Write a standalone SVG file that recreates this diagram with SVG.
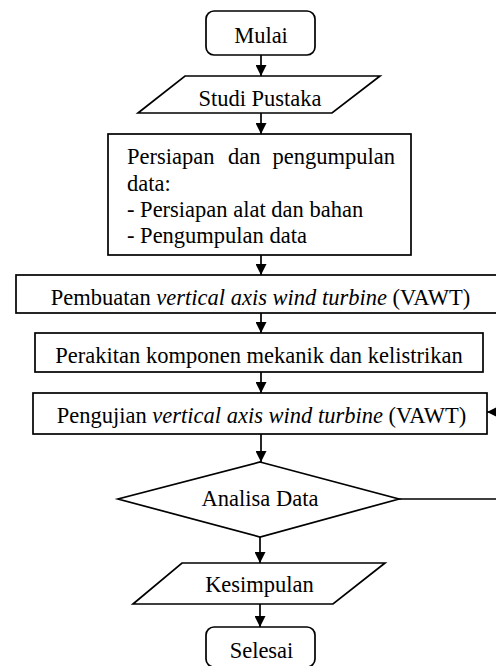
<svg xmlns="http://www.w3.org/2000/svg" width="496" height="666" viewBox="0 0 496 666">
  <style>
    .shape { fill: #ffffff; stroke: #000000; stroke-width: 1.7; }
    .label { font-family: 'Liberation Serif', 'DejaVu Serif', serif; font-size: 22.5px; fill: #000000; }
    .mid { text-anchor: middle; }
    .it { font-style: italic; }
    .edge { fill: none; stroke: #000000; stroke-width: 1.7; }
  </style>
  <defs>
    <marker id="arrow" viewBox="0 0 11 11" refX="11" refY="5.5" markerWidth="11" markerHeight="11" markerUnits="userSpaceOnUse" orient="auto">
      <path d="M0,0 L11,5.5 L0,11 Z" fill="#000000"/>
    </marker>
  </defs>

  <rect width="496" height="666" fill="#ffffff"/>

  <g id="connectors">
    <line class="edge" x1="261" y1="55" x2="261" y2="76" marker-end="url(#arrow)"/>
    <line class="edge" x1="261" y1="113" x2="261" y2="134" marker-end="url(#arrow)"/>
    <line class="edge" x1="261" y1="255" x2="261" y2="275" marker-end="url(#arrow)"/>
    <line class="edge" x1="261" y1="313" x2="261" y2="333" marker-end="url(#arrow)"/>
    <line class="edge" x1="261" y1="372" x2="261" y2="393" marker-end="url(#arrow)"/>
    <line class="edge" x1="261" y1="434" x2="261" y2="462" marker-end="url(#arrow)"/>
    <line class="edge" x1="260" y1="537" x2="260" y2="563" marker-end="url(#arrow)"/>
    <line class="edge" x1="260" y1="604" x2="260" y2="627" marker-end="url(#arrow)"/>
    <!-- feedback loop from the decision back to testing -->
    <path class="edge" d="M399,499 H500 V412 H487" marker-end="url(#arrow)"/>
  </g>

  <g id="mulai">
    <rect class="shape" x="206" y="11" width="109" height="44" rx="8"/>
    <text class="label mid" x="261" y="43">Mulai</text>
  </g>

  <g id="studi-pustaka">
    <polygon class="shape" points="185,76 380,76 332,113 138,113"/>
    <text class="label mid" x="260" y="105.5">Studi Pustaka</text>
  </g>

  <g id="persiapan">
    <rect class="shape" x="108" y="134" width="303" height="121"/>
    <text class="label" x="127" y="164">Persiapan</text>
    <text class="label" x="228" y="164">dan</text>
    <text class="label" x="395" y="164" text-anchor="end">pengumpulan</text>
    <text class="label" x="127" y="190.5">data:</text>
    <text class="label" x="127" y="216.5">- Persiapan alat dan bahan</text>
    <text class="label" x="127" y="242.5">- Pengumpulan data</text>
  </g>

  <g id="pembuatan">
    <rect class="shape" x="16" y="275" width="482" height="38"/>
    <text class="label mid" x="260.5" y="305">Pembuatan <tspan class="it">vertical axis wind turbine</tspan> (VAWT)</text>
  </g>

  <g id="perakitan">
    <rect class="shape" x="35" y="333" width="448" height="39"/>
    <text class="label mid" x="259" y="363">Perakitan komponen mekanik dan kelistrikan</text>
  </g>

  <g id="pengujian">
    <rect class="shape" x="33" y="393" width="454" height="41"/>
    <text class="label mid" x="261.5" y="422.5">Pengujian <tspan class="it">vertical axis wind turbine</tspan> (VAWT)</text>
  </g>

  <g id="analisa-data">
    <polygon class="shape" points="260,462 399,499 260,537 118,499"/>
    <text class="label mid" x="260" y="506">Analisa Data</text>
  </g>

  <g id="kesimpulan">
    <polygon class="shape" points="182,563 385,563 333,604 133,604"/>
    <text class="label mid" x="259.5" y="591.5">Kesimpulan</text>
  </g>

  <g id="selesai">
    <rect class="shape" x="206" y="627" width="109" height="40" rx="8"/>
    <text class="label mid" x="261.5" y="658">Selesai</text>
  </g>
</svg>
